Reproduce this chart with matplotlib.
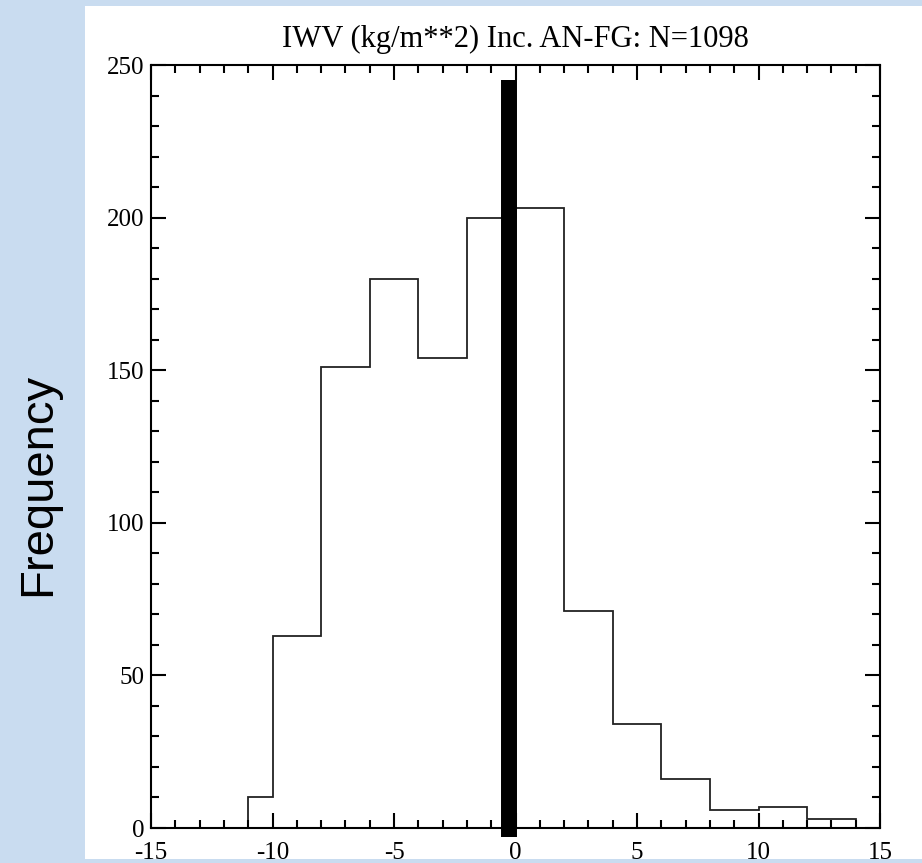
import matplotlib.pyplot as plt
from matplotlib.patches import Rectangle
from matplotlib.ticker import MultipleLocator

# histogram of IWV increments (AN-FG), bin edges and counts
bin_edges = [-11, -10, -8, -6, -4, -2, 0, 2, 4, 6, 8, 10, 12, 14]
counts = [10, 63, 151, 180, 154, 200, 203, 71, 34, 16, 6, 7, 3]

# thick marker line
marker_x = -0.27
marker_top = 245
marker_bottom = -3

title = 'IWV (kg/m**2) Inc. AN-FG: N=1098'

plt.rcParams['axes.unicode_minus'] = False

W, H = 922, 863
fig = plt.figure(figsize=(W / 100, H / 100), dpi=100)
fig.patch.set_facecolor('#c9dcf0')

# white panel behind the plot
fig.patches.append(Rectangle((85 / W, (H - 859) / H), (W - 85) / W, (859 - 6) / H,
                             transform=fig.transFigure, facecolor='white',
                             edgecolor='none', zorder=-10))

ax = fig.add_axes([151 / W, (H - 828) / H, (880 - 151) / W, (828 - 65) / H])
ax.set_facecolor('white')

ax.stairs(counts, bin_edges, color='#222222', linewidth=1.3)
ax.plot([marker_x, marker_x], [marker_bottom, marker_top], color='black',
        linewidth=11.5, solid_capstyle='butt', clip_on=False)

ax.set_xlim(-15, 15)
ax.set_ylim(0, 250)
ax.xaxis.set_major_locator(MultipleLocator(5))
ax.xaxis.set_minor_locator(MultipleLocator(1))
ax.yaxis.set_major_locator(MultipleLocator(50))
ax.yaxis.set_minor_locator(MultipleLocator(10))

ax.tick_params(which='both', direction='in', top=True, right=True, width=1.5, color='black')
ax.tick_params(which='major', length=10.5)
ax.tick_params(which='minor', length=6)
ax.tick_params(axis='x', pad=10)
ax.tick_params(axis='y', pad=5)
for lbl in ax.get_xticklabels() + ax.get_yticklabels():
    lbl.set_fontfamily('Liberation Serif')
    lbl.set_fontsize(18)
for s in ax.spines.values():
    s.set_linewidth(1.5)

ax.set_title(title, fontfamily='Liberation Serif', fontsize=22, pad=13)

fig.text(38 / W, (H - 484) / H, 'Frequency', rotation=90, ha='center', va='center',
         fontfamily='Liberation Sans', fontsize=34)

fig.savefig('out.png', dpi=100, facecolor=fig.get_facecolor())
